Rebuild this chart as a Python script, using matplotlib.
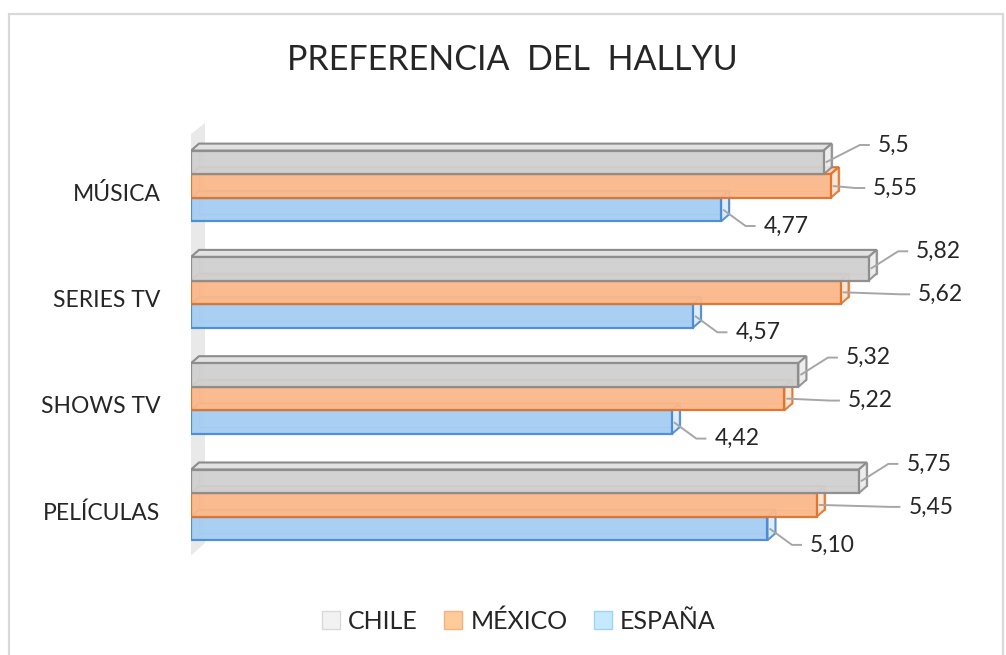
import matplotlib
matplotlib.use('Agg')
import matplotlib.pyplot as plt
from matplotlib.patches import Polygon, Rectangle, Patch

plt.rcParams['font.family'] = ['Lato', 'DejaVu Sans']

categories = ['MÚSICA', 'SERIES TV', 'SHOWS TV', 'PELÍCULAS']
series_names = ['CHILE', 'MÉXICO', 'ESPAÑA']
chile = [5.5, 5.82, 5.32, 5.75]
mexico = [5.55, 5.62, 5.22, 5.45]
espana = [4.77, 4.57, 4.42, 5.10]
labels_chile = ['5,5', '5,82', '5,32', '5,75']
labels_mexico = ['5,55', '5,62', '5,22', '5,45']
labels_espana = ['4,77', '4,57', '4,42', '5,10']

W, H = 1006, 655
XMIN, XMAX = 1, 6.6
TEXT = '#262626'

# pixel layout (measured on the reference)
AX_L, AX_T, AX_B = 191, 110, 580
SX = 140.6          # px per unit on x
SY = 106.3          # px between categories
Y0 = 186            # pixel row of first category center
BAR_H = 0.222
DX, DY = 8 / SX, 7 / SY   # 3d depth


def px_x(px):
    return XMIN + (px - AX_L) / SX


def px_y(py):
    return (py - Y0) / SY


fig = plt.figure(figsize=(W / 100, H / 100), dpi=100)
ax_w = (XMAX - XMIN) * SX
ax = fig.add_axes([AX_L / W, 1 - AX_B / H, ax_w / W, (AX_B - AX_T) / H])
ax.set_xlim(XMIN, XMAX)
ax.set_ylim(px_y(AX_B), px_y(AX_T))

# frame of the chart area
fig.patches.append(Rectangle((9 / W, -0.05), 994 / W, 1.05 - 14 / H, transform=fig.transFigure,
                             fill=False, edgecolor='#d9d9d9', linewidth=1.6))

# back wall
wall = [(px_x(186), px_y(138)), (px_x(205), px_y(123)), (px_x(205), px_y(543)), (px_x(186), px_y(560))]
ax.add_patch(Polygon(wall, closed=True, facecolor='#e9e9e9', edgecolor='none', zorder=0))

styles = [
    # face, edge, top, side
    ('#d0d0d0', '#8c8c8c', '#e2e2e2', '#ececec'),
    ('#fbb88a', '#df742c', '#fcd0b0', '#fde3d2'),
    ('#a5cef3', '#4b8bd1', '#c4def7', '#dcecfa'),
]
all_vals = [chile, mexico, espana]
all_labels = [labels_chile, labels_mexico, labels_espana]


def box(yc, v, st, z):
    face, edge, top, side = st
    y0, y1 = yc - BAR_H / 2, yc + BAR_H / 2
    x0, x1 = XMIN, v
    ax.add_patch(Rectangle((x0 + DX, y0 - DY), x1 - x0, BAR_H, fill=False,
                           edgecolor=edge, linewidth=1.0, alpha=0.6, zorder=z))
    ax.add_patch(Polygon([(x0, y0), (x0 + DX, y0 - DY), (x1 + DX, y0 - DY), (x1, y0)],
                         facecolor=top, edgecolor=edge, linewidth=1.5, zorder=z))
    ax.add_patch(Polygon([(x1, y0), (x1 + DX, y0 - DY), (x1 + DX, y1 - DY), (x1, y1)],
                         facecolor=side, edgecolor=edge, linewidth=1.5, alpha=0.9, zorder=z))
    ax.barh(yc, v - XMIN, left=XMIN, height=BAR_H, color=face, edgecolor=edge,
            linewidth=1.6, alpha=0.95, zorder=z + 0.5)


for i in range(len(categories)):
    for s in (2, 1, 0):
        yc = i + (s - 1) * BAR_H
        box(yc, all_vals[s][i], styles[s], 3 - s)

# data labels with leader lines
texts = []
for i in range(len(categories)):
    cx_chile = chile[i] + 70 / SX
    pos = [
        (cx_chile, i - 41 / SY),
        (cx_chile + 2 / SX, i + 2 / SY),
        (espana[i] + 65 / SX, i + 40 / SY),
    ]
    for s in range(3):
        t = ax.text(pos[s][0], pos[s][1], all_labels[s][i], fontsize=16.5, color=TEXT,
                    ha='center', va='center', zorder=10)
        texts.append((t, s, i))

fig.canvas.draw()
inv = ax.transData.inverted()
for t, s, i in texts:
    bb = t.get_window_extent()
    left = inv.transform((bb.x0, 0))[0]
    tx, ty = t.get_position()
    v = all_vals[s][i]
    yc = i + (s - 1) * BAR_H
    xs = [v + 2 / SX, left - 18 / SX, left - 8 / SX]
    ys = [yc, ty, ty]
    ax.plot(xs, ys, color='#a6a6a6', linewidth=1.4, zorder=9, solid_capstyle='butt')

ax.set_yticks([i + 6 / SY for i in range(len(categories))])
ax.set_yticklabels(categories, fontsize=16.5, color=TEXT)
ax.tick_params(axis='y', length=0, pad=22)
ax.set_xticks([])
for sp in ax.spines.values():
    sp.set_visible(False)
ax.patch.set_alpha(0)

fig.text(512 / W, 1 - 60 / H, 'PREFERENCIA  DEL  HALLYU', fontsize=24.5, color=TEXT,
         ha='center', va='center')

handles = [
    Patch(facecolor='#f2f2f2', edgecolor='#d9d9d9'),
    Patch(facecolor='#ffcc99', edgecolor='#f4b183'),
    Patch(facecolor='#c5e9ff', edgecolor='#9dd3f5'),
]
fig.legend(handles, series_names, loc='center', bbox_to_anchor=(519 / W, 1 - 621 / H),
           ncol=3, frameon=False, fontsize=18, labelcolor=TEXT,
           handlelength=0.72, handleheight=0.72, handletextpad=0.33, columnspacing=1.05)

fig.savefig('out.png', dpi=100)
